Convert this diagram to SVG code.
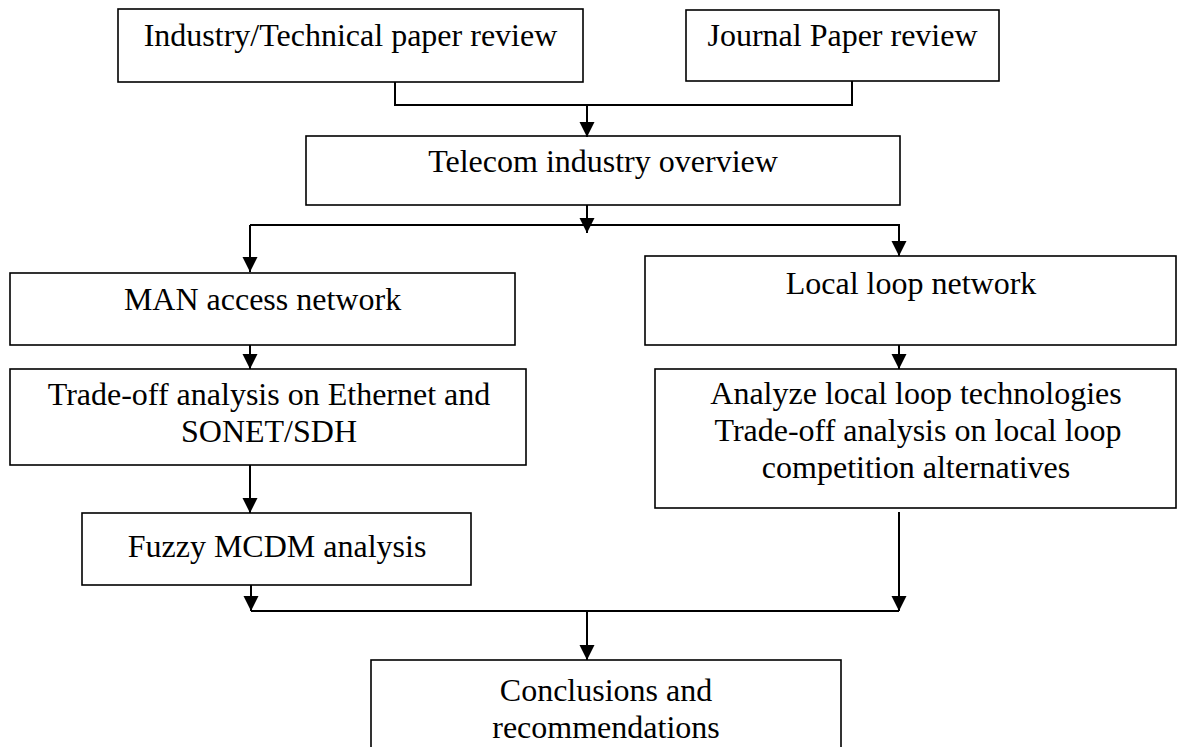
<svg xmlns="http://www.w3.org/2000/svg" width="1178" height="747" viewBox="0 0 1178 747">
<style>
.box{fill:#fff;stroke:#000;stroke-width:1.6}
.t{font-family:"Liberation Serif","Times New Roman",serif;font-size:32px;fill:#000;text-anchor:middle}
.c{fill:none;stroke:#000;stroke-width:2}
</style>
<defs>
<marker id="ah" markerUnits="userSpaceOnUse" markerWidth="16" markerHeight="16" refX="15" refY="7.5" orient="auto">
<path d="M0,0 L15,7.5 L0,15 z" fill="#000"/>
</marker>
</defs>
<rect width="1178" height="747" fill="#fff"/>
<g id="n-industry"><rect class="box" x="118" y="9" width="465" height="73"/><text class="t" x="350.5" y="46">Industry/Technical paper review</text></g>
<g id="n-journal"><rect class="box" x="686" y="10" width="313" height="71"/><text class="t" x="842.5" y="46">Journal Paper review</text></g>
<g id="n-telecom"><rect class="box" x="306" y="136" width="594" height="69"/><text class="t" x="603" y="172">Telecom industry overview</text></g>
<g id="n-man"><rect class="box" x="10" y="273" width="505" height="72"/><text class="t" x="262.5" y="310">MAN access network</text></g>
<g id="n-tradeoff"><rect class="box" x="10" y="369" width="516" height="96"/><text class="t" x="269" y="405">Trade-off analysis on Ethernet and</text><text class="t" x="269" y="442">SONET/SDH</text></g>
<g id="n-fuzzy"><rect class="box" x="82" y="513" width="389" height="72"/><text class="t" x="277" y="557">Fuzzy MCDM analysis</text></g>
<g id="n-local"><rect class="box" x="645" y="256" width="531" height="89"/><text class="t" x="911" y="294">Local loop network</text></g>
<g id="n-analyze"><rect class="box" x="655" y="369" width="521" height="139"/><text class="t" x="916" y="404">Analyze local loop technologies</text><text class="t" x="918" y="441">Trade-off analysis on local loop</text><text class="t" x="916" y="478">competition alternatives</text></g>
<g id="n-conclusions"><rect class="box" x="371" y="660" width="470" height="110"/><text class="t" x="606" y="701">Conclusions and</text><text class="t" x="606" y="738">recommendations</text></g>
<g id="connectors">
<path class="c" d="M395,82 V105 H852 V81"/>
<path class="c" d="M587,105 V137" marker-end="url(#ah)"/>
<path class="c" d="M587,205 V233" marker-end="url(#ah)"/>
<path class="c" d="M250,225 H899 V256" marker-end="url(#ah)"/>
<path class="c" d="M250,225 V272" marker-end="url(#ah)"/>
<path class="c" d="M250,345 V369" marker-end="url(#ah)"/>
<path class="c" d="M250,465 V513" marker-end="url(#ah)"/>
<path class="c" d="M899,345 V369" marker-end="url(#ah)"/>
<path class="c" d="M899,512 V611" marker-end="url(#ah)"/>
<path class="c" d="M251,585 V611" marker-end="url(#ah)"/>
<path class="c" d="M251,611 H899"/>
<path class="c" d="M587,611 V660" marker-end="url(#ah)"/>
</g>
</svg>
